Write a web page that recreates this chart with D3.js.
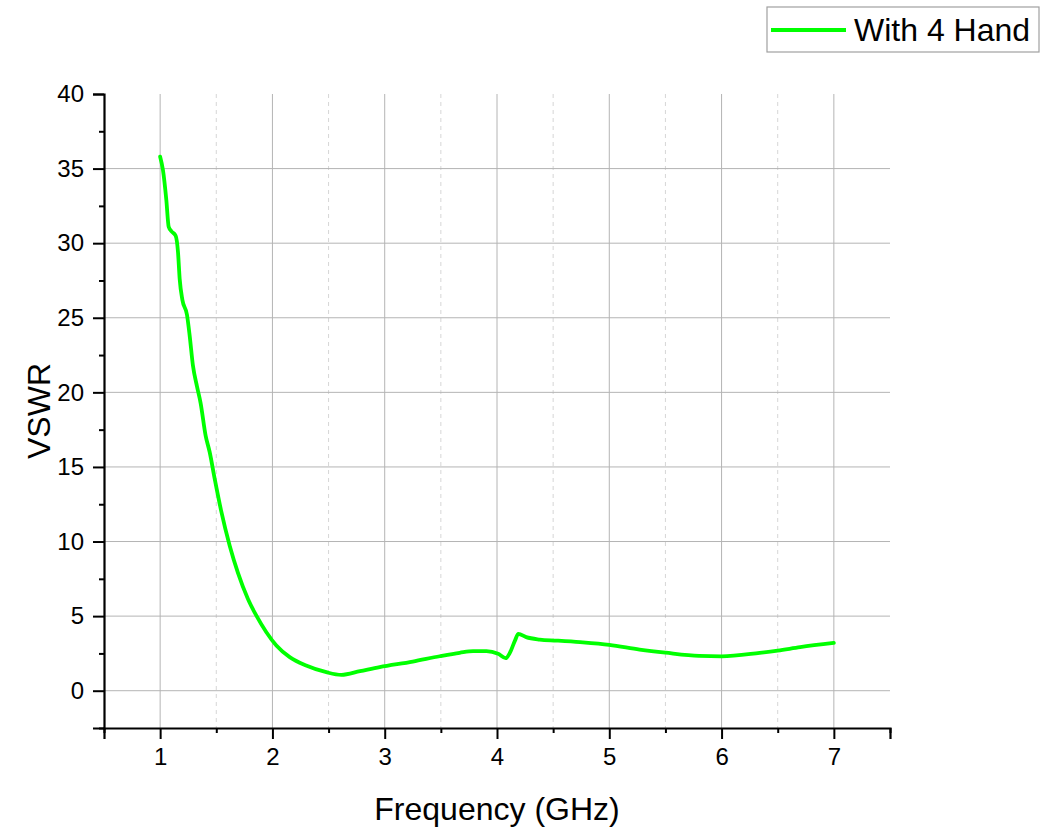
<!DOCTYPE html>
<html>
<head>
<meta charset="utf-8">
<script src="https://cdn.jsdelivr.net/npm/d3@7"></script>
<style>
  body { margin: 0; background: #fff; }
  text { font-family: "Liberation Sans", Arial, sans-serif; }
</style>
</head>
<body>
<div id="chart"></div>
<script>
// frequency (GHz) and VSWR
const freq = [1.0, 1.025, 1.055, 1.076, 1.10, 1.138, 1.159, 1.174, 1.198, 1.239, 1.263, 1.292, 1.328,
  1.36, 1.405, 1.441, 1.486, 1.545, 1.62, 1.693, 1.782, 1.857, 1.946, 2.035, 2.154, 2.30, 2.48, 2.614,
  2.78, 2.955, 3.25, 3.49, 3.668, 3.787, 3.906, 4.01, 4.078, 4.11, 4.16, 4.19, 4.26, 4.38, 4.53, 4.74,
  5.0, 5.27, 5.5, 5.8, 6.0, 6.34, 6.5, 6.7, 7.0];
const vswr = [35.8, 34.9, 32.9, 31.1, 30.8, 30.5, 29.4, 27.6, 26.2, 25.2, 23.8, 21.8, 20.4,
  19.3, 17.1, 16.0, 14.2, 12.0, 9.7, 7.9, 6.15, 5.03, 3.92, 3.03, 2.25, 1.69, 1.24, 1.06,
  1.31, 1.58, 1.95, 2.31, 2.54, 2.65, 2.65, 2.47, 2.18, 2.47, 3.36, 3.81, 3.59, 3.43, 3.36, 3.25,
  3.07, 2.76, 2.55, 2.33, 2.3, 2.54, 2.69, 2.92, 3.2];
const xTicks = [1, 2, 3, 4, 5, 6, 7];
const yTicks = [0, 5, 10, 15, 20, 25, 30, 35, 40];
const seriesName = "With 4 Hand";

const width = 1053, height = 834;
const margin = { top: 94, right: 163, bottom: 106, left: 104 };

const svg = d3.select("#chart").append("svg")
  .attr("width", width).attr("height", height);

const x = d3.scaleLinear().domain([0.5, 7.5]).range([margin.left, width - margin.right]);
const y = d3.scaleLinear().domain([-2.5, 40]).range([height - margin.bottom, margin.top]);

const xMinor = d3.range(0.5, 7.6, 1);
const yMinor = d3.range(-2.5, 40, 5);

// grid
const grid = svg.append("g");
grid.selectAll(".vminor").data(xMinor.filter((d) => d > 0.5 && d < 7.5)).enter().append("line")
  .attr("x1", (d) => x(d)).attr("x2", (d) => x(d))
  .attr("y1", y(40)).attr("y2", y(-2.5))
  .attr("stroke", "#d6d6d6").attr("stroke-dasharray", "4,4");
grid.selectAll(".vmajor").data(xTicks).enter().append("line")
  .attr("x1", (d) => x(d)).attr("x2", (d) => x(d))
  .attr("y1", y(40)).attr("y2", y(-2.5))
  .attr("stroke", "#b4b4b4");
grid.selectAll(".hmajor").data(yTicks.filter((d) => d < 40)).enter().append("line")
  .attr("x1", x(0.5)).attr("x2", x(7.5))
  .attr("y1", (d) => y(d)).attr("y2", (d) => y(d))
  .attr("stroke", "#b4b4b4");

// axes
const xAxis = svg.append("g").attr("transform", `translate(0,${y(-2.5)})`);
xAxis.call(d3.axisBottom(x).tickValues(xTicks).tickSize(11).tickPadding(9).tickFormat(d3.format("d")));
xAxis.append("g").call(d3.axisBottom(x).tickValues(xMinor).tickSize(5).tickFormat(""));

const yAxis = svg.append("g").attr("transform", `translate(${x(0.5)},0)`);
yAxis.call(d3.axisLeft(y).tickValues(yTicks).tickSize(11).tickPadding(9));
yAxis.append("g").call(d3.axisLeft(y).tickValues(yMinor).tickSize(5).tickFormat(""));

svg.selectAll(".domain").attr("stroke", "#000").attr("stroke-width", 2.2);
svg.selectAll(".tick line").attr("stroke", "#000").attr("stroke-width", 2);
xAxis.attr("font-size", 24).attr("font-family", '"Liberation Sans", Arial, sans-serif');
yAxis.attr("font-size", 24).attr("font-family", '"Liberation Sans", Arial, sans-serif');
svg.selectAll(".tick text").attr("fill", "#000");
yAxis.selectAll("g > .domain").filter((d, i, n) => n[i].parentNode !== yAxis.node()).remove();
xAxis.selectAll("g > .domain").filter((d, i, n) => n[i].parentNode !== xAxis.node()).remove();

// line
const data = freq.map((f, i) => ({ f: f, v: vswr[i] }));
const line = d3.line().x((d) => x(d.f)).y((d) => y(d.v)).curve(d3.curveMonotoneX);
svg.append("path").datum(data)
  .attr("d", line)
  .attr("fill", "none")
  .attr("stroke", "#00ff00")
  .attr("stroke-width", 3.8)
  .attr("stroke-linejoin", "round")
  .attr("stroke-linecap", "round");

// axis titles
svg.append("text")
  .attr("x", (x(0.5) + x(7.5)) / 2).attr("y", 820)
  .attr("text-anchor", "middle").attr("font-size", 32)
  .text("Frequency (GHz)");
svg.append("text")
  .attr("transform", `translate(50,${(y(-2.5) + y(40)) / 2}) rotate(-90)`)
  .attr("text-anchor", "middle").attr("font-size", 32)
  .text("VSWR");

// legend
const legend = svg.append("g");
legend.append("rect")
  .attr("x", 767).attr("y", 7).attr("width", 272).attr("height", 45)
  .attr("fill", "#fff").attr("stroke", "#a0a0a0").attr("stroke-width", 1.2);
legend.append("line")
  .attr("x1", 771).attr("x2", 846).attr("y1", 30).attr("y2", 30)
  .attr("stroke", "#00ff00").attr("stroke-width", 3.8);
legend.append("text")
  .attr("x", 854).attr("y", 41).attr("font-size", 32)
  .text(seriesName);
</script>
</body>
</html>
